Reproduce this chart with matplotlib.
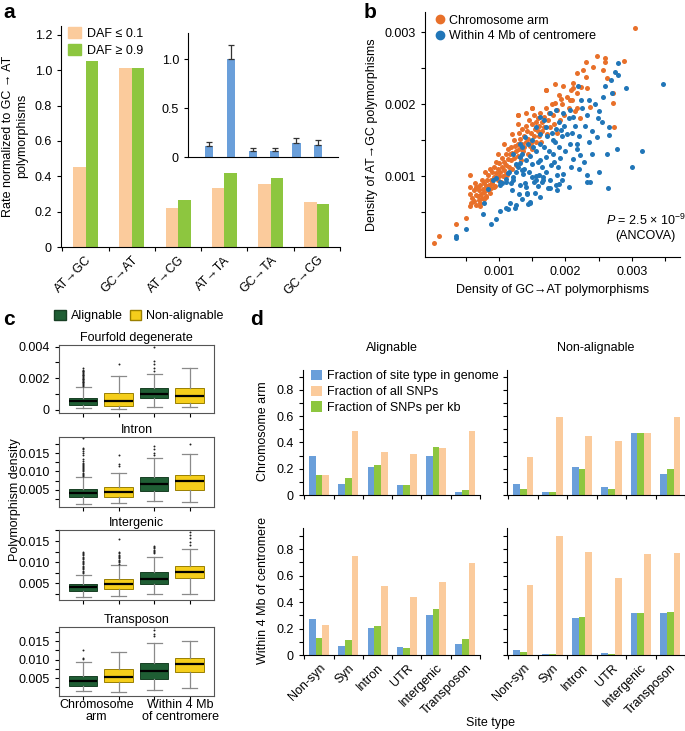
import numpy as np
import matplotlib
matplotlib.use('Agg')
import matplotlib.pyplot as plt
from matplotlib.patches import Patch
from matplotlib.lines import Line2D

plt.rcParams['font.family'] = ['Liberation Sans', 'DejaVu Sans']
plt.rcParams['mathtext.fontset'] = 'custom'
plt.rcParams['mathtext.rm'] = 'Liberation Sans'
plt.rcParams['mathtext.it'] = 'Liberation Sans:italic'
FS = 9
plt.rcParams['font.size'] = FS
plt.rcParams['axes.linewidth'] = 0.8
plt.rcParams['xtick.major.width'] = 0.8
plt.rcParams['ytick.major.width'] = 0.8
plt.rcParams['xtick.minor.width'] = 0.8
plt.rcParams['ytick.minor.width'] = 0.8
plt.rcParams['xtick.major.size'] = 3
plt.rcParams['ytick.major.size'] = 3
plt.rcParams['xtick.minor.size'] = 3
plt.rcParams['ytick.minor.size'] = 3
plt.rcParams['xtick.labelsize'] = FS
plt.rcParams['ytick.labelsize'] = FS

# ---------------- data ----------------
# panel a
mut_types = ['AT→GC', 'GC→AT', 'AT→CG', 'AT→TA', 'GC→TA', 'GC→CG']
daf_low = [0.45, 1.01, 0.22, 0.335, 0.355, 0.255]
daf_high = [1.05, 1.01, 0.265, 0.42, 0.39, 0.245]
inset_vals = [0.11, 1.0, 0.06, 0.06, 0.14, 0.12]
inset_err = [0.04, 0.15, 0.03, 0.03, 0.05, 0.05]

# panel b (densities in units of 1e-3)
arm_pts = [
    (3.05, 3.06), (0.02, 0.07), (0.10, 0.17), (0.36, 0.33), (0.50, 0.42), (0.56, 0.58),
    (0.56, 0.75), (0.56, 1.02), (0.66, 0.85), (0.71, 0.58), (0.81, 0.71), (0.93, 0.85),
    (1.11, 1.03), (1.29, 1.85), (1.49, 1.95), (1.71, 2.20), (1.84, 2.28), (1.94, 2.07),
    (2.07, 2.06), (2.12, 2.23), (2.18, 2.43), (2.27, 2.47), (2.31, 2.59), (2.31, 2.37),
    (2.32, 2.23), (2.22, 1.80), (2.17, 1.94), (2.37, 1.96), (2.47, 2.67), (2.59, 2.64),
    (2.60, 2.59), (2.62, 2.36), (2.72, 2.16), (2.72, 2.02), (2.73, 1.68), (2.88, 2.60),
    (2.57, 2.47), (2.42, 2.52), (2.23, 2.24),
    (0.58, 0.62), (0.60, 0.70), (0.62, 0.80), (0.63, 0.66), (0.65, 0.74), (0.57, 0.85),
    (0.64, 0.90), (0.66, 0.60), (0.68, 0.72), (0.70, 0.80), (0.70, 0.67), (0.72, 0.88),
    (0.73, 0.75), (0.74, 0.95), (0.68, 0.85), (0.75, 0.70), (0.72, 0.63), (0.76, 0.82),
    (0.78, 0.78), (0.78, 0.90), (0.80, 0.72), (0.80, 0.86), (0.82, 0.95), (0.83, 0.80),
    (0.84, 1.02), (0.85, 0.88), (0.79, 1.05), (0.86, 0.76), (0.77, 0.68), (0.88, 0.95),
    (0.88, 0.84), (0.90, 1.05), (0.90, 0.90), (0.92, 1.12), (0.93, 0.98), (0.94, 0.86),
    (0.95, 1.20), (0.87, 1.10), (0.96, 1.04), (0.98, 0.95), (0.98, 1.10), (1.00, 1.00),
    (1.00, 1.18), (1.02, 1.06), (1.03, 0.92), (1.04, 1.25), (1.05, 1.12), (0.99, 1.30),
    (1.06, 1.00), (1.07, 1.20), (1.08, 1.08), (1.10, 1.30), (1.10, 1.15), (1.12, 1.02),
    (1.13, 1.24), (1.14, 1.38), (1.15, 1.12), (1.08, 1.45), (1.16, 1.30), (1.18, 1.22),
    (1.18, 1.40), (1.20, 1.10), (1.20, 1.32), (1.22, 1.50), (1.23, 1.25), (1.24, 1.42),
    (1.25, 1.16), (1.19, 1.58), (1.26, 1.35), (1.28, 1.45), (1.28, 1.28), (1.30, 1.60),
    (1.30, 1.38), (1.32, 1.52), (1.33, 1.22), (1.34, 1.45), (1.35, 1.66), (1.29, 1.72),
    (1.36, 1.35), (1.29, 1.85), (1.38, 1.55), (1.38, 1.40), (1.40, 1.70), (1.40, 1.48),
    (1.42, 1.62), (1.43, 1.30), (1.44, 1.52), (1.45, 1.78), (1.41, 1.88), (1.46, 1.42),
    (1.48, 1.60), (1.48, 1.46), (1.50, 1.72), (1.50, 1.38), (1.52, 1.55), (1.53, 1.85),
    (1.54, 1.66), (1.55, 1.48), (1.49, 1.95), (1.56, 1.75), (1.58, 1.62), (1.58, 1.80),
    (1.60, 1.55), (1.60, 1.70), (1.62, 1.88), (1.63, 1.48), (1.64, 1.75), (1.65, 1.62),
    (1.67, 1.82), (1.68, 1.68), (1.70, 1.95), (1.72, 1.58), (1.73, 1.78), (1.75, 1.88),
    (1.77, 1.68), (1.79, 2.00), (1.71, 2.20), (1.82, 1.85), (1.83, 1.72), (1.85, 2.02),
    (1.87, 1.60), (1.88, 1.92), (1.90, 2.12), (1.92, 1.78), (1.95, 2.00), (1.97, 2.25),
    (1.98, 1.85), (2.02, 2.10), (2.05, 1.95), (2.08, 2.20), (2.10, 2.06), (2.12, 2.30),
    (2.15, 1.90), (2.18, 2.15),
]
cen_pts = [
    (3.46, 2.28), (3.15, 1.35), (3.00, 1.12), (2.64, 0.84), (2.37, 0.92), (2.32, 1.01),
    (2.33, 0.92), (2.62, 1.31), (2.66, 1.57), (2.77, 1.38), (2.66, 1.68), (2.79, 2.57),
    (2.79, 2.40), (2.91, 2.23), (2.68, 2.33), (2.57, 2.10), (2.49, 1.80), (2.47, 1.54),
    (2.33, 1.85), (2.36, 2.06), (2.23, 2.06), (2.19, 2.25), (2.12, 1.82), (2.02, 1.59),
    (2.07, 1.45), (2.17, 1.45), (2.18, 1.38), (2.22, 1.29), (2.12, 1.24), (2.08, 1.13),
    (1.89, 1.13), (1.96, 1.03), (1.91, 0.89), (1.86, 0.87), (1.76, 0.94), (1.66, 0.99),
    (1.74, 0.83), (1.61, 0.71), (1.46, 0.64), (1.44, 0.61), (1.26, 0.60), (1.11, 0.56),
    (1.14, 0.54), (1.01, 0.52), (0.96, 0.40), (0.88, 0.33), (0.76, 0.47), (0.50, 0.27),
    (0.36, 0.17), (0.35, 0.14), (1.31, 0.87), (1.34, 0.68), (1.53, 0.92), (1.59, 0.86),
    (1.41, 0.85), (1.11, 0.92), (1.21, 0.99), (1.36, 1.03), (1.49, 1.17), (1.61, 1.22),
    (1.71, 1.27), (1.81, 1.31), (1.91, 1.40), (1.81, 1.50), (1.61, 1.45), (1.51, 1.40),
    (1.31, 1.27), (1.34, 1.40), (1.44, 1.45), (1.71, 1.68), (1.86, 1.66), (1.76, 1.87),
    (1.86, 1.92), (1.96, 1.87), (2.07, 1.92), (1.94, 1.64), (1.61, 1.59), (1.56, 1.68),
    (0.91, 0.94), (1.01, 0.92), (0.83, 0.82), (1.26, 1.17), (1.21, 1.31), (1.31, 1.45),
    (1.39, 1.54), (1.61, 1.82), (1.68, 1.78),
    (0.95, 0.97), (1.02, 0.88), (1.10, 0.96), (1.15, 1.05), (1.18, 0.90), (1.25, 1.05),
    (1.28, 1.12), (1.32, 1.18), (1.35, 1.30), (1.38, 1.10), (1.40, 1.22), (1.45, 1.05),
    (1.47, 1.28), (1.50, 1.50), (1.55, 1.35), (1.58, 1.20), (1.60, 1.02), (1.65, 1.12),
    (1.68, 1.40), (1.70, 1.05), (1.72, 1.55), (1.75, 1.35), (1.78, 1.15), (1.80, 1.60),
    (1.83, 1.20), (1.85, 1.48), (1.88, 1.02), (1.90, 1.75), (1.92, 1.25), (1.95, 1.55),
    (1.98, 1.70), (2.00, 1.35), (2.05, 1.80), (2.10, 1.60), (2.15, 1.70), (2.20, 1.55),
    (2.25, 1.95), (2.30, 1.70), (2.35, 1.48), (2.40, 1.62), (2.45, 2.00), (2.50, 1.90),
    (2.55, 1.75), (2.60, 2.25), (2.70, 2.15), (2.75, 2.45), (1.88, 0.80), (1.95, 0.95),
    (2.05, 0.85), (2.20, 1.10), (2.28, 1.20), (2.40, 1.30), (2.50, 1.05), (1.42, 0.75),
    (1.30, 0.75), (1.20, 0.80), (1.55, 0.95), (1.65, 0.92), (1.24, 0.56), (1.16, 0.62),
    (1.46, 0.63), (1.42, 0.76), (1.54, 0.76), (1.66, 0.94), (1.76, 0.83), (1.39, 0.90),
    (1.21, 0.95), (1.49, 0.98), (1.56, 1.00), (1.34, 1.08), (1.13, 1.04), (1.04, 0.91),
    (0.78, 0.62),
]

# panel c (box statistics)
c_titles = ['Fourfold degenerate', 'Intron', 'Intergenic', 'Transposon']
c_groups = ['Arm, alignable', 'Arm, non-alignable', 'Cen, alignable', 'Cen, non-alignable']
c_xlabels = ['Chromosome\narm', 'Within 4 Mb\nof centromere']
c_q1 = [[0.00033, 0.00025, 0.00074, 0.00045],
        [0.0029, 0.0030, 0.0047, 0.0050],
        [0.0032, 0.0038, 0.0049, 0.0062],
        [0.0029, 0.0040, 0.0048, 0.0068]]
c_med = [[0.00056, 0.00056, 0.00103, 0.00087],
         [0.0040, 0.0045, 0.0065, 0.0073],
         [0.0041, 0.0049, 0.0061, 0.0077],
         [0.0042, 0.0054, 0.0069, 0.0087]]
c_q3 = [[0.00076, 0.00105, 0.00136, 0.00138],
        [0.0052, 0.0057, 0.0084, 0.0089],
        [0.0048, 0.0060, 0.0077, 0.0090],
        [0.0055, 0.0074, 0.0091, 0.0105]]
c_lo = [[0.0001, 0.00008, 0.0002, 0.00019],
        [0.0010, 0.0014, 0.0020, 0.0016],
        [0.0017, 0.0020, 0.0025, 0.0026],
        [0.0015, 0.0012, 0.0018, 0.0024]]
c_hi = [[0.00142, 0.00216, 0.00225, 0.00266],
        [0.0084, 0.0097, 0.0138, 0.0147],
        [0.0071, 0.0093, 0.0112, 0.0131],
        [0.0094, 0.0120, 0.0146, 0.0151]]
c_fliers = [
    [[0.00153, 0.00158, 0.00163, 0.00168, 0.00173, 0.00178, 0.00183, 0.00188, 0.00193,
      0.00198, 0.00203, 0.00208, 0.00213, 0.00218, 0.00223, 0.00228, 0.00233, 0.00238,
      0.00243, 0.00248, 0.00255, 0.00262],
     [0.00293],
     [0.00245, 0.00266, 0.00287, 0.00307, 0.0040],
     []],
    [[0.0088, 0.0091, 0.0094, 0.0097, 0.0100, 0.0103, 0.0106, 0.0109, 0.0112, 0.0115,
      0.0118, 0.0121, 0.0124, 0.0128, 0.0135, 0.0145, 0.0150, 0.0155, 0.0160, 0.0164,
      0.0191],
     [0.0114, 0.0119, 0.0145],
     [0.0145, 0.0150, 0.0160, 0.0170],
     [0.0175]],
    [[0.0074, 0.0077, 0.0080, 0.0083, 0.0086, 0.0089, 0.0092, 0.0095, 0.0098, 0.0101,
      0.0104, 0.0107, 0.0110, 0.0113, 0.0116, 0.0119, 0.0122, 0.0125],
     [0.0097, 0.0100, 0.0103, 0.0106, 0.0109, 0.0112, 0.0115, 0.0118, 0.0121, 0.0125, 0.0155],
     [0.0121, 0.0124, 0.0127, 0.0130, 0.0133, 0.0136, 0.0139],
     [0.0140, 0.0148, 0.0156, 0.0164, 0.0172]],
    [[0.0101, 0.0104, 0.0127],
     [],
     [0.0163, 0.0170, 0.0179, 0.0188],
     []],
]
c_ylims = [(-0.0002, 0.0041), (0.0003, 0.0194), (0.0011, 0.0176), (0.0002, 0.0188)]

# panel d
site_types = ['Non-syn', 'Syn', 'Intron', 'UTR', 'Intergenic', 'Transposon']
# [row: arm / centromere][col: alignable / non-alignable]
d_genome = [[[0.30, 0.08, 0.21, 0.075, 0.30, 0.025], [0.08, 0.022, 0.21, 0.058, 0.47, 0.158]],
            [[0.275, 0.07, 0.205, 0.06, 0.30, 0.08], [0.04, 0.005, 0.28, 0.012, 0.32, 0.32]]]
d_allsnp = [[[0.15, 0.49, 0.33, 0.315, 0.355, 0.49], [0.29, 0.59, 0.45, 0.41, 0.47, 0.59]],
            [[0.23, 0.75, 0.52, 0.44, 0.555, 0.695], [0.53, 0.90, 0.78, 0.58, 0.765, 0.77]]]
d_perkb = [[[0.15, 0.13, 0.225, 0.075, 0.365, 0.04], [0.048, 0.025, 0.20, 0.048, 0.47, 0.198]],
           [[0.13, 0.115, 0.22, 0.055, 0.345, 0.12], [0.025, 0.008, 0.29, 0.01, 0.32, 0.325]]]

# ---------------- colours ----------------
PEACH = '#FBCB9C'
GREEN = '#8DC63F'
BLUE_BAR = '#6A9FDA'
ORANGE = '#E8702A'
BLUE = '#2176B8'
DKGREEN = '#1F5E34'
YELLOW = '#F5CE1B'

W, H = 685, 731
fig = plt.figure(figsize=(W / 100, H / 100), dpi=100)


def add_ax(x0, y0, x1, y1):
    return fig.add_axes([x0 / W, 1 - y1 / H, (x1 - x0) / W, (y1 - y0) / H])


def lb_spines(ax):
    ax.spines['top'].set_visible(False)
    ax.spines['right'].set_visible(False)


# ---------------- panel a ----------------
axa = add_ax(61, 26, 340, 247)
lb_spines(axa)
xa = np.arange(len(mut_types))
wa = 0.27
axa.bar(xa - wa / 2, daf_low, wa, color=PEACH)
axa.bar(xa + wa / 2, daf_high, wa, color=GREEN)
axa.set_xlim(-0.53, 5.35)
axa.set_ylim(0, 1.25)
axa.set_yticks([0, 0.2, 0.4, 0.6, 0.8, 1.0, 1.2])
axa.set_yticklabels(['0', '0.2', '0.4', '0.6', '0.8', '1.0', '1.2'])
axa.set_xticks(xa)
axa.set_xticklabels(mut_types, rotation=45, ha='right', rotation_mode='anchor')
axa.tick_params(axis='x', length=0, pad=5)
axa.set_xticks(np.arange(-0.5, 5.6, 1), minor=True)
axa.tick_params(axis='x', which='minor', length=3)
fig.text(15 / W, 1 - 136 / H, 'Rate normalized to GC → AT\npolymorphisms', rotation=90,
         ha='center', va='center', multialignment='center', fontsize=FS)
fig.legend(handles=[Patch(color=PEACH, label='DAF ≤ 0.1'), Patch(color=GREEN, label='DAF ≥ 0.9')],
           loc='upper left', bbox_to_anchor=(63 / W, 1 - 22 / H), frameon=False,
           handlelength=1.0, handleheight=1.0, handletextpad=0.5, labelspacing=0.3,
           borderaxespad=0, fontsize=FS)

axi = add_ax(188, 33, 338, 157)
lb_spines(axi)
xi = np.arange(len(inset_vals))
axi.bar(xi, inset_vals, 0.38, color=BLUE_BAR,
        yerr=[np.zeros(len(inset_err)), inset_err], ecolor='#333333',
        error_kw=dict(elinewidth=0.9, capsize=2, capthick=0.9))
axi.set_xlim(-0.96, 5.9)
axi.set_ylim(0, 1.27)
axi.set_xticks([])
axi.set_yticks([0, 0.5, 1.0])
axi.set_yticklabels(['0', '0.5', '1.0'])

# ---------------- panel b ----------------
axb = add_ax(425, 12, 680, 257)
lb_spines(axb)
arm = np.array(arm_pts).T * 1e-3
cen = np.array(cen_pts).T * 1e-3
axb.scatter(arm[0], arm[1], s=13, color=ORANGE, linewidths=0, zorder=2)
axb.scatter(cen[0], cen[1], s=13, color=BLUE, linewidths=0, zorder=3)
axb.set_xlim(-0.00011, 0.00372)
axb.set_ylim(-0.000125, 0.00328)
axb.set_xticks([0.001, 0.002, 0.003])
axb.set_xticklabels(['0.001', '0.002', '0.003'])
axb.set_yticks([0.001, 0.002, 0.003])
axb.set_yticklabels(['0.001', '0.002', '0.003'])
axb.set_xticks([0.0005, 0.0015, 0.0025, 0.0035], minor=True)
axb.set_yticks([0.0005, 0.0015, 0.0025], minor=True)
axb.set_xlabel('Density of GC→AT polymorphisms', labelpad=4)
axb.set_ylabel('Density of AT→GC polymorphisms', labelpad=5)
axb.legend(handles=[Line2D([], [], marker='o', ls='', color=ORANGE, ms=6, label='Chromosome arm'),
                    Line2D([], [], marker='o', ls='', color=BLUE, ms=6, label='Within 4 Mb of centromere')],
           loc='upper left', bbox_to_anchor=(0.0, 1.02), frameon=False, handletextpad=0.1,
           handlelength=1.2, labelspacing=0.3, borderaxespad=0.2, fontsize=FS)
axb.text(0.865, 0.12, '$P$ = 2.5 × 10$^{-9}$\n(ANCOVA)', transform=axb.transAxes,
         ha='center', va='center', multialignment='center', fontsize=FS)

# ---------------- panel c ----------------
c_frames = [(345, 413), (437, 507), (530, 600), (627, 696)]
pos_c = [1, 2, 3, 4]
face_c = [DKGREEN, YELLOW, DKGREEN, YELLOW]
edge_c = ['#183f24', '#9a7f00', '#183f24', '#9a7f00']
c_axes = []
for k in range(4):
    ax = add_ax(59, c_frames[k][0], 214, c_frames[k][1])
    stats = []
    for g in range(4):
        stats.append(dict(med=c_med[k][g], q1=c_q1[k][g], q3=c_q3[k][g],
                          whislo=c_lo[k][g], whishi=c_hi[k][g], fliers=c_fliers[k][g]))
    bp = ax.bxp(stats, positions=pos_c, widths=0.8, patch_artist=True, capwidths=0.42,
                medianprops=dict(color='black', lw=1.6),
                whiskerprops=dict(color='#8a8a8a', lw=0.9),
                capprops=dict(color='#8a8a8a', lw=0.9),
                flierprops=dict(marker='o', ms=1.4, mfc='#222222', mec='none'))
    for patch, fc, ec in zip(bp['boxes'], face_c, edge_c):
        patch.set_facecolor(fc)
        patch.set_edgecolor(ec)
        patch.set_linewidth(0.7)
    ax.set_xlim(0.32, 4.69)
    ax.set_ylim(*c_ylims[k])
    ax.set_title(c_titles[k], fontsize=FS, pad=3)
    ax.set_xticks(pos_c)
    ax.set_xticklabels([])
    if k == 0:
        ax.set_yticks([0, 0.002, 0.004])
        ax.set_yticklabels(['0', '0.002', '0.004'])
        ax.set_yticks([0.001, 0.003], minor=True)
    else:
        ax.set_yticks([0.005, 0.010, 0.015])
        ax.set_yticklabels(['0.005', '0.010', '0.015'])
        ax.set_yticks([0.0025, 0.0075, 0.0125, 0.0175], minor=True)
    for sp in ax.spines.values():
        sp.set_color('#555555')
    c_axes.append(ax)
c_axes[-1].set_xticks([1.38, 3.75], minor=True)
c_axes[-1].set_xticklabels(c_xlabels, minor=True, linespacing=1.05)
c_axes[-1].tick_params(axis='x', which='minor', length=0, pad=2)
fig.text(15 / W, 1 - 500 / H, 'Polymorphism density', rotation=90, ha='center', va='center',
         fontsize=FS)
fig.legend(handles=[Patch(facecolor=DKGREEN, edgecolor='#183f24', label='Alignable'),
                    Patch(facecolor=YELLOW, edgecolor='#9a7f00', label='Non-alignable')],
           loc='center', bbox_to_anchor=(139 / W, 1 - 316 / H), ncol=2, frameon=False,
           handlelength=0.9, handleheight=0.9, handletextpad=0.4, columnspacing=0.6,
           borderaxespad=0, fontsize=FS)

# ---------------- panel d ----------------
d_frames_x = [(303, 480), (507, 685)]
d_frames_y = [(370, 495), (528, 655)]
d_ylims = [0.95, 0.96]
xd = np.arange(len(site_types))
wd = 0.23
for r in range(2):
    for c in range(2):
        ax = add_ax(d_frames_x[c][0], d_frames_y[r][0], d_frames_x[c][1], d_frames_y[r][1])
        lb_spines(ax)
        ax.bar(xd - wd, d_genome[r][c], wd, color=BLUE_BAR, label='Fraction of site type in genome')
        ax.bar(xd + wd, d_allsnp[r][c], wd, color=PEACH, label='Fraction of all SNPs')
        ax.bar(xd, d_perkb[r][c], wd, color=GREEN, label='Fraction of SNPs per kb')
        ax.set_xlim(-0.55, 5.5)
        ax.set_ylim(0, d_ylims[r])
        ax.set_yticks(np.arange(0, 0.91, 0.1))
        if c == 0:
            ax.set_yticklabels(['0', '', '0.2', '', '0.4', '', '0.6', '', '0.8', ''])
        else:
            ax.set_yticklabels([])
        ax.set_xticks(np.arange(-0.5, 5.6, 1), minor=True)
        ax.tick_params(axis='x', which='minor', length=3)
        ax.set_xticks(xd)
        if r == 1:
            ax.set_xticklabels(site_types, rotation=45, ha='right', rotation_mode='anchor')
        else:
            ax.set_xticklabels([])
        ax.tick_params(axis='x', which='major', length=0, pad=5)
        if r == 0 and c == 0:
            h, l = ax.get_legend_handles_labels()
            ax.legend(h, l, loc='upper left',
                      bbox_to_anchor=(0.0, 1.06), frameon=False, handlelength=0.9,
                      handleheight=0.9, handletextpad=0.4, labelspacing=0.25,
                      borderaxespad=0.2, fontsize=FS)
        if r == 0:
            ax.set_title(['Alignable', 'Non-alignable'][c], fontsize=FS, pad=14)

fig.text(263 / W, 1 - 431 / H, 'Chromosome arm', rotation=90, ha='center', va='center')
fig.text(263 / W, 1 - 591 / H, 'Within 4 Mb of centromere', rotation=90, ha='center', va='center')
fig.text(490 / W, 1 - 723 / H, 'Site type', ha='center', va='center')

# panel letters
for lab, x, y in [('a', 3, 3), ('b', 364, 3), ('c', 3, 310), ('d', 250, 310)]:
    fig.text(x / W, 1 - y / H, lab, fontsize=15, fontweight='bold', ha='left', va='top')

fig.savefig('out.png', dpi=100)
